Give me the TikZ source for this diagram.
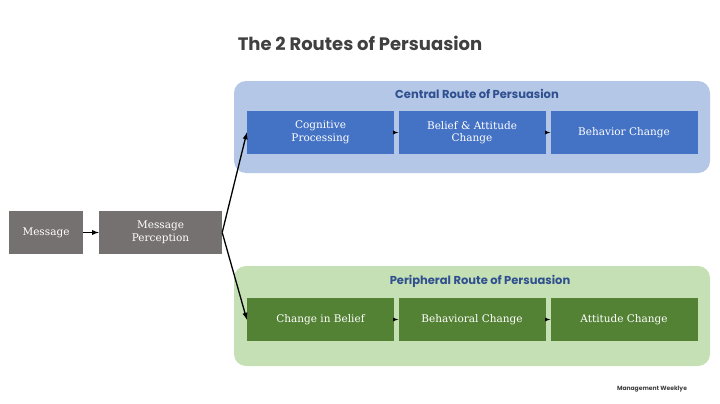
\documentclass[tikz,border=0pt]{standalone}
\usepackage{fontspec}
\setmainfont{DejaVu Serif}
\newfontfamily\popp{Poppins}
\begin{document}
\begin{tikzpicture}[x=1pt,y=-1pt,
  grp/.style={rounded corners=12pt,draw=none},
  bx/.style={minimum height=43pt,text=white,align=center,font=\fontsize{10.5}{12.5}\selectfont,inner sep=1pt},
  bbox/.style={bx,fill=blueb,minimum width=147pt},
  vbox/.style={bx,fill=greenb,minimum width=147pt},
  arr/.style={-latex,line width=1.3pt}]
\definecolor{blueb}{HTML}{4472C4}
\definecolor{greenb}{HTML}{548235}
\definecolor{bluel}{HTML}{B4C7E7}
\definecolor{greenl}{HTML}{C5E0B4}
\definecolor{msg}{HTML}{767171}
\definecolor{ttl}{HTML}{404040}
\definecolor{dblue}{HTML}{2F4F8F}
\fill[white] (0,0) rectangle (720,404);
\node[font=\popp\bfseries\fontsize{18}{20}\selectfont,text=ttl] (title) at (360,43) {The 2 Routes of Persuasion};
\fill[bluel,grp] (234,81) rectangle (710,173);
\fill[greenl,grp] (234,266) rectangle (710,366);
\node[font=\popp\bfseries\fontsize{11.5}{13}\selectfont,text=dblue] (cl) at (477,94) {Central Route of Persuasion};
\node[font=\popp\bfseries\fontsize{11.5}{13}\selectfont,text=dblue] (pl) at (480,281) {Peripheral Route of Persuasion};
\node[bx,fill=msg,minimum width=74pt] (m) at (46,232.5) {Message};
\node[bx,fill=msg,minimum width=123pt] (mp) at (160.5,232.5) {Message\\Perception};
\node[bbox] (c1) at (320.5,132.5) {Cognitive\\Processing};
\node[bbox] (c2) at (472,132.5) {Belief \& Attitude\\Change};
\node[bbox] (c3) at (624,132.5) {Behavior Change};
\node[vbox] (p1) at (320.5,319.5) {Change in Belief};
\node[vbox] (p2) at (472,319.5) {Behavioral Change};
\node[vbox] (p3) at (624,319.5) {Attitude Change};
\draw[arr] (m) -- (mp);
\draw[arr] (mp.east) -- (c1.west);
\draw[arr] (mp.east) -- (p1.west);
\draw[-latex,thick] (c1) -- (c2);
\draw[-latex,thick] (c2) -- (c3);
\draw[-latex,thick] (p1) -- (p2);
\draw[-latex,thick] (p2) -- (p3);
\node[font=\popp\bfseries\fontsize{6}{7}\selectfont,text=ttl] (mw) at (652,389) {Management Weeklye};
\end{tikzpicture}
\end{document}
